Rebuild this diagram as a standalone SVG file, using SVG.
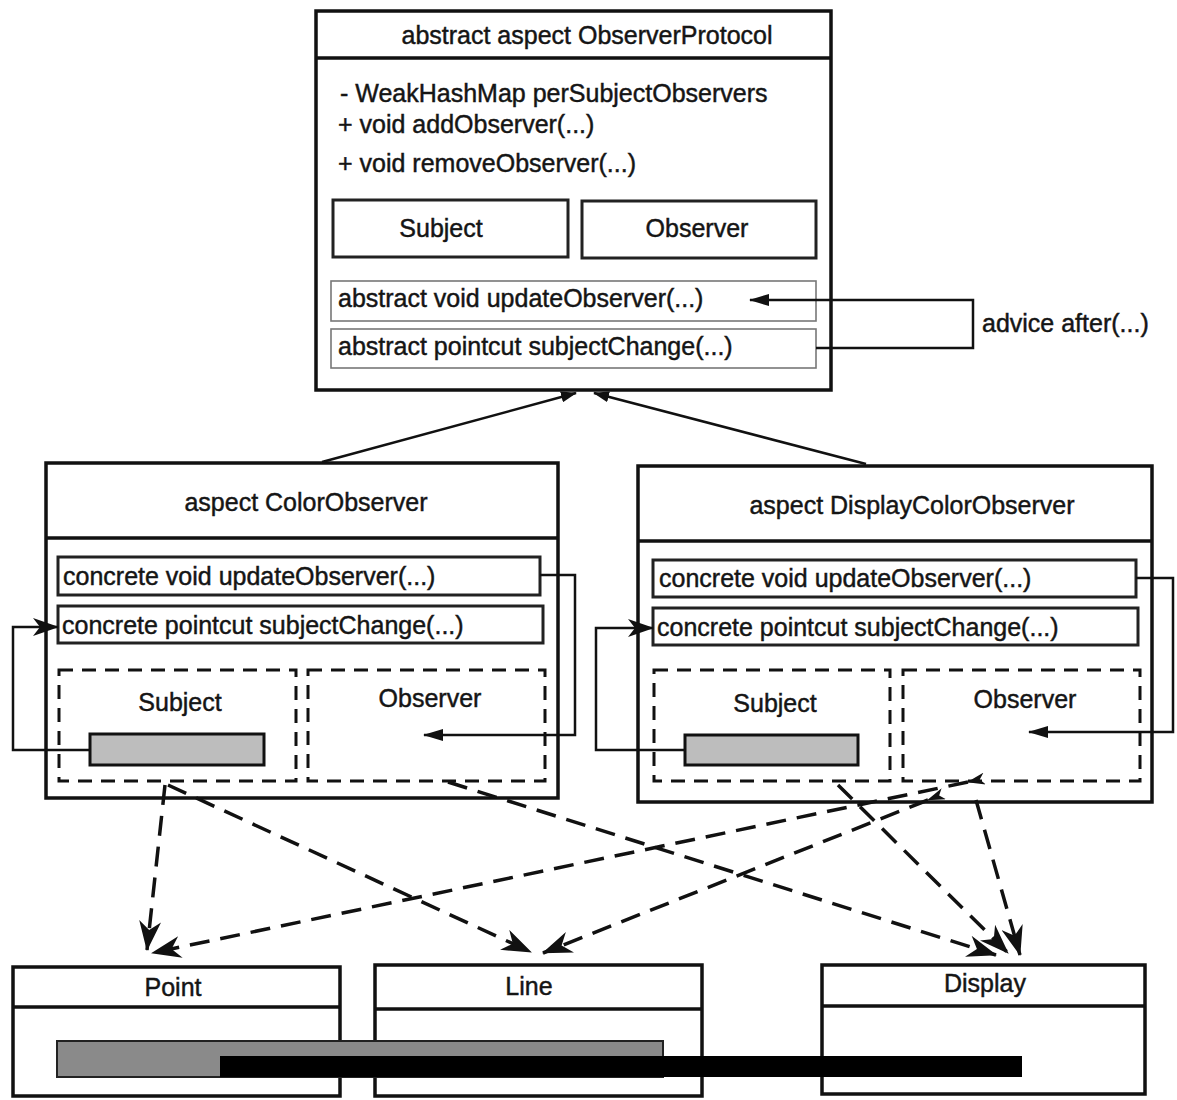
<svg xmlns="http://www.w3.org/2000/svg" width="1177" height="1100" viewBox="0 0 1177 1100">
<style>
text{font-family:"Liberation Sans",Arial,sans-serif;font-size:25px;fill:#151515;stroke:#151515;stroke-width:0.45}
.c{text-anchor:middle}
.box{fill:none;stroke:#111;stroke-width:3.5}
.in{fill:none;stroke:#222;stroke-width:3}
.thin{fill:none;stroke:#777;stroke-width:1.6}
.dbox{fill:none;stroke:#111;stroke-width:3;stroke-dasharray:14 9}
.sl{fill:none;stroke:#111;stroke-width:2.5}
.dl{fill:none;stroke:#111;stroke-width:3.5;stroke-dasharray:20 11}
</style>
<defs>
<marker id="big" markerUnits="userSpaceOnUse" viewBox="0 0 30 22" markerWidth="30" markerHeight="22" refX="29" refY="11" orient="auto"><path d="M0,0 L30,11 L0,22 L9,11 Z" fill="#111"/></marker>
<marker id="small" markerUnits="userSpaceOnUse" viewBox="0 0 18 12" markerWidth="18" markerHeight="12" refX="17" refY="6" orient="auto"><path d="M0,0 L18,6 L0,12 L5,6 Z" fill="#111"/></marker>
<marker id="loop" markerUnits="userSpaceOnUse" viewBox="0 0 26 18" markerWidth="26" markerHeight="18" refX="25" refY="9" orient="auto"><path d="M0,0 L26,9 L0,18 L7,9 Z" fill="#111"/></marker>
<marker id="tri" markerUnits="userSpaceOnUse" viewBox="0 0 20 12" markerWidth="20" markerHeight="12" refX="19" refY="6" orient="auto"><path d="M0,0 L20,6 L0,12 Z" fill="#111"/></marker>
<marker id="inh" markerUnits="userSpaceOnUse" viewBox="0 0 16 11" markerWidth="16" markerHeight="11" refX="15" refY="5.5" orient="auto"><path d="M0,0 L16,5.5 L0,11 Z" fill="#111"/></marker>
</defs>

<g id="ObserverProtocol">
<rect class="box" x="316" y="11" width="515" height="379"/>
<line class="box" x1="316" y1="58" x2="831" y2="58"/>
<text class="c" x="587" y="44">abstract aspect ObserverProtocol</text>
<text x="340" y="102">- WeakHashMap perSubjectObservers</text>
<text x="338" y="133">+ void addObserver(...)</text>
<text x="338" y="172">+ void removeObserver(...)</text>
<rect class="in" x="333" y="200" width="235" height="57"/>
<text class="c" x="441" y="237">Subject</text>
<rect class="in" x="582" y="201" width="234" height="57"/>
<text class="c" x="697" y="237">Observer</text>
<rect class="thin" x="331" y="281" width="485" height="40"/>
<text x="338" y="307">abstract void updateObserver(...)</text>
<rect class="thin" x="331" y="329" width="485" height="39"/>
<text x="338" y="355">abstract pointcut subjectChange(...)</text>
</g>

<g id="advice-label">
<text x="982" y="332">advice after(...)</text>
</g>

<g id="ColorObserver">
<rect class="box" x="46" y="463" width="512" height="335"/>
<line class="box" x1="46" y1="538" x2="558" y2="538"/>
<text class="c" x="306" y="511">aspect ColorObserver</text>
<rect class="in" x="58" y="557" width="482" height="38"/>
<text x="63" y="585">concrete void updateObserver(...)</text>
<rect class="in" x="58" y="606" width="485" height="37"/>
<text x="62" y="634">concrete pointcut subjectChange(...)</text>
<rect class="dbox" x="59" y="670" width="237" height="111"/>
<rect class="dbox" x="308" y="670" width="237" height="111"/>
<text class="c" x="180" y="711">Subject</text>
<text class="c" x="430" y="707">Observer</text>
<rect x="90" y="734" width="174" height="31" fill="#bdbdbd" stroke="#111" stroke-width="3"/>
</g>

<g id="DisplayColorObserver">
<rect class="box" x="638" y="466" width="514" height="336"/>
<line class="box" x1="638" y1="541" x2="1152" y2="541"/>
<text class="c" x="912" y="514">aspect DisplayColorObserver</text>
<rect class="in" x="653" y="560" width="483" height="37"/>
<text x="659" y="587">concrete void updateObserver(...)</text>
<rect class="in" x="653" y="608" width="485" height="37"/>
<text x="657" y="636">concrete pointcut subjectChange(...)</text>
<rect class="dbox" x="654" y="670" width="236" height="111"/>
<rect class="dbox" x="903" y="670" width="237" height="111"/>
<text class="c" x="775" y="712">Subject</text>
<text class="c" x="1025" y="708">Observer</text>
<rect x="685" y="735" width="173" height="30" fill="#bdbdbd" stroke="#111" stroke-width="3"/>
</g>

<g id="Point">
<rect class="box" x="13" y="967" width="327" height="129"/>
<line class="box" x1="13" y1="1007" x2="340" y2="1007"/>
<text class="c" x="173" y="996">Point</text>
</g>
<g id="Line">
<rect class="box" x="375" y="965" width="327" height="131"/>
<line class="box" x1="375" y1="1009" x2="702" y2="1009"/>
<text class="c" x="529" y="995">Line</text>
</g>
<g id="Display">
<rect class="box" x="822" y="965" width="323" height="129"/>
<line class="box" x1="822" y1="1006" x2="1145" y2="1006"/>
<text class="c" x="985" y="992">Display</text>
</g>

<g id="bars">
<rect x="57" y="1041" width="606" height="36" fill="#8a8a8a" stroke="#222" stroke-width="2"/>
<rect x="220" y="1056" width="802" height="21" fill="#000"/>
</g>

<g id="connectors">
<line class="sl" x1="322" y1="462" x2="576" y2="393" stroke-width="2" marker-end="url(#inh)"/>
<line class="sl" x1="866" y1="464" x2="594" y2="393" stroke-width="2" marker-end="url(#inh)"/>
<path class="sl" d="M816,348 H973 V300 H750" marker-end="url(#tri)"/>
<path class="sl" d="M90,750 H13 V627 H58" marker-end="url(#loop)"/>
<path class="sl" d="M540,575 H575 V735 H424" stroke-width="2" marker-end="url(#tri)"/>
<path class="sl" d="M685,750 H596 V628 H653" marker-end="url(#loop)"/>
<path class="sl" d="M1136,578 H1173 V732 H1029" stroke-width="2" marker-end="url(#tri)"/>
<path class="dl" d="M165,785 L147,950" marker-end="url(#big)"/>
<path class="dl" d="M168,785 L531,952" marker-end="url(#big)"/>
<path class="dl" d="M448,782 L996,955" marker-end="url(#big)"/>
<path class="dl" d="M838,785 L1008,953" marker-end="url(#big)"/>
<path class="dl" d="M976,800 L1020,955" marker-end="url(#big)"/>
<path class="dl" d="M968,782 L152,953" marker-end="url(#big)" marker-start="url(#small)"/>
<path class="dl" d="M928,800 L543,953" marker-end="url(#big)" marker-start="url(#small)"/>
</g>
</svg>
